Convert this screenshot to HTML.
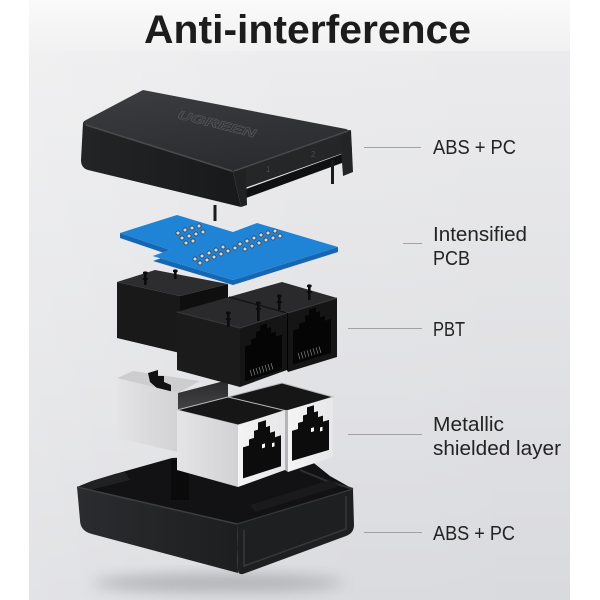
<!DOCTYPE html>
<html>
<head>
<meta charset="utf-8">
<style>
  html,body{margin:0;padding:0;background:#fff;}
  svg{display:block;}
  text{font-family:"Liberation Sans", Arial, sans-serif;}
</style>
</head>
<body>
<svg width="600" height="600" viewBox="0 0 600 600" xmlns="http://www.w3.org/2000/svg">
  <defs>
    <linearGradient id="bg" x1="0" y1="0" x2="0" y2="1">
      <stop offset="0" stop-color="#ebebed"/>
      <stop offset="1" stop-color="#d9dade"/>
    </linearGradient>
    <linearGradient id="bgH" x1="0" y1="0" x2="1" y2="0">
      <stop offset="0" stop-color="#ffffff" stop-opacity="0.25"/>
      <stop offset="0.5" stop-color="#ffffff" stop-opacity="0.05"/>
      <stop offset="1" stop-color="#ffffff" stop-opacity="0"/>
    </linearGradient>
    <linearGradient id="band" x1="0" y1="0" x2="0" y2="1">
      <stop offset="0" stop-color="#fafafa"/>
      <stop offset="1" stop-color="#f1f1f2"/>
    </linearGradient>
    <linearGradient id="coverTop" x1="0" y1="0" x2="0.4" y2="1">
      <stop offset="0" stop-color="#3c3d40"/>
      <stop offset="1" stop-color="#2b2c2f"/>
    </linearGradient>
    <linearGradient id="coverFront" x1="0" y1="0" x2="1" y2="0">
      <stop offset="0" stop-color="#232426"/>
      <stop offset="1" stop-color="#18191b"/>
    </linearGradient>
    <linearGradient id="shLeft" x1="0" y1="0" x2="1" y2="0">
      <stop offset="0" stop-color="#e4e4e6"/>
      <stop offset="1" stop-color="#d2d2d4"/>
    </linearGradient>
    <linearGradient id="shFace" x1="0" y1="0" x2="1" y2="0">
      <stop offset="0" stop-color="#f4f4f5"/>
      <stop offset="1" stop-color="#e7e7e9"/>
    </linearGradient>
    <linearGradient id="shDark" x1="0" y1="0" x2="0" y2="1">
      <stop offset="0" stop-color="#2a2a2c"/>
      <stop offset="1" stop-color="#555557"/>
    </linearGradient>
    <linearGradient id="caseFront" x1="0" y1="0" x2="1" y2="0">
      <stop offset="0" stop-color="#2b2c2f"/>
      <stop offset="1" stop-color="#1d1e20"/>
    </linearGradient>
    <filter id="blur" x="-50%" y="-50%" width="200%" height="200%">
      <feGaussianBlur stdDeviation="7"/>
    </filter>
  </defs>

  <!-- background -->
  <rect x="0" y="0" width="600" height="600" fill="#ffffff"/>
  <rect x="29" y="51" width="541" height="549" fill="url(#bg)"/>
  <rect x="29" y="51" width="541" height="549" fill="url(#bgH)"/>
  <rect x="29" y="0" width="541" height="51" fill="url(#band)"/>

  <!-- title -->
  <text x="144" y="43" font-size="40" font-weight="bold" fill="#1c1c1d" textLength="327" lengthAdjust="spacingAndGlyphs">Anti-interference</text>

  <!-- labels -->
  <g fill="#232324" font-size="20">
    <text x="433" y="154" textLength="83" lengthAdjust="spacingAndGlyphs">ABS + PC</text>
    <text x="433" y="241" textLength="94" lengthAdjust="spacingAndGlyphs">Intensified</text>
    <text x="433" y="265" textLength="37" lengthAdjust="spacingAndGlyphs">PCB</text>
    <text x="433" y="336" textLength="32" lengthAdjust="spacingAndGlyphs">PBT</text>
    <text x="433" y="431" textLength="71" lengthAdjust="spacingAndGlyphs">Metallic</text>
    <text x="433" y="455" textLength="128" lengthAdjust="spacingAndGlyphs">shielded layer</text>
    <text x="433" y="540" textLength="82" lengthAdjust="spacingAndGlyphs">ABS + PC</text>
  </g>
  <g stroke="#a2a2a5" stroke-width="1">
    <line x1="364" y1="147.5" x2="421" y2="147.5"/>
    <line x1="403" y1="243.5" x2="422" y2="243.5"/>
    <line x1="348" y1="328.5" x2="422" y2="328.5"/>
    <line x1="348" y1="434.5" x2="422" y2="434.5"/>
    <line x1="364" y1="532.5" x2="422" y2="532.5"/>
  </g>

  <!-- ============ BOTTOM CASE ============ -->
  <ellipse cx="218" cy="583" rx="125" ry="9" fill="#9fa0a4" opacity="0.7" filter="url(#blur)"/>
  <polygon points="77,487 92,481 115,474 172,458 300,452 330,476 353,489 237,524" fill="#121214"/>
  <polygon points="77,487 92,481 115,474 125,472 130,480 90,490" fill="#202123"/>
  <rect x="171" y="460" width="18" height="40" fill="#0a0a0b"/>
  <polyline points="300,470 327,481 353,489" fill="none" stroke="#2e2f31" stroke-width="2"/>
  <polygon points="250,505 330,480 340,486 255,512" fill="#1a1a1c"/>
  <path d="M77,487 L237,524 L238,573 L92,534 Q80,531 80,520 Z" fill="url(#caseFront)"/>
  <path d="M237,524 L353,489 L354,525 Q354,533 346,536 L243,574 Q238,575 238,570 Z" fill="#1e1f21"/>
  <path d="M244,530 L244,566 L346,529 L346,496" fill="none" stroke="#37383b" stroke-width="1.5"/>
  <line x1="77" y1="487" x2="237" y2="524" stroke="#3d3e41" stroke-width="1.5"/>
  <line x1="237" y1="524" x2="353" y2="489" stroke="#37383b" stroke-width="1.2"/>

  <!-- ============ METALLIC SHIELD ============ -->
  <!-- back shield -->
  <polygon points="117,378 133,371 200,381 178,393" fill="#cdcdcf"/>
  <polygon points="148,373 158,370 158,376 164,376 164,382 171,385 171,392 158,389 150,382" fill="#111"/>
  <polygon points="117,378 178,393 178,452 117,438" fill="url(#shLeft)"/>
  <polygon points="178,393 228,380 228,422 178,432" fill="url(#shDark)"/>
  <!-- front shield top -->
  <polygon points="177,410 228,397 282,383 333,397 287,411 238,425" fill="#161617" stroke="#b9b9bb" stroke-width="1"/>
  <line x1="228" y1="397" x2="287" y2="411" stroke="#b9b9bb" stroke-width="1"/>
  <!-- faces -->
  <polygon points="177,410 238,425 238,487 177,470" fill="url(#shLeft)"/>
  <polygon points="238,425 285,410 285,470 238,487" fill="url(#shFace)"/>
  <polygon points="285,410 288,410 288,472 285,470" fill="#b5b5b7"/>
  <polygon points="288,410 333,397 333,457 288,472" fill="url(#shFace)"/>
  <!-- shield ports -->
  <g transform="translate(238,425) skewY(-17.7)">
    <path d="M5,24 L5,55 L43,55 L43,24 L37,24 L37,18 L32,18 L32,11 L28,11 L28,4 L20,4 L20,11 L16,11 L16,18 L11,18 L11,24 Z" fill="#0c0c0d"/>
    <rect x="24" y="27" width="3" height="4" fill="#fff"/>
    <rect x="34" y="29" width="2.5" height="4" fill="#fff"/>
  </g>
  <g transform="translate(288,410) skewY(-16.5)">
    <path d="M4,22 L4,52 L41,52 L41,22 L35,22 L35,16 L30,16 L30,10 L26,10 L26,3 L19,3 L19,10 L15,10 L15,16 L10,16 L10,22 Z" fill="#0c0c0d"/>
    <rect x="23" y="25" width="3" height="4" fill="#fff"/>
    <rect x="32" y="27" width="2.5" height="4" fill="#fff"/>
  </g>

  <!-- ============ PBT JACKS ============ -->
  <polygon points="117,282 155,270 228,284 180,296" fill="#2d2d2f"/>
  <polygon points="117,282 180,296 180,353 117,338" fill="#19191a"/>
  <polygon points="180,296 228,284 228,322 180,336" fill="#0f0f10"/>
  <!-- front jacks -->
  <polygon points="177,312 229,297 282,282 337,298 287,313 240,328" fill="#2a2a2c"/>
  <line x1="229" y1="297" x2="287" y2="313" stroke="#111" stroke-width="1.2"/>
  <polygon points="177,312 240,328 240,387 177,370" fill="#1b1b1c"/>
  <polygon points="240,328 287,313 287,370 240,387" fill="#151516"/>
  <polygon points="287,313 288,313 288,372 287,370" fill="#000"/>
  <polygon points="288,313 337,298 337,357 288,372" fill="#151516"/>
  <line x1="177" y1="312" x2="240" y2="328" stroke="#3a3a3c" stroke-width="1"/>
  <line x1="240" y1="328" x2="287" y2="313" stroke="#3a3a3c" stroke-width="1"/>
  <line x1="288" y1="313" x2="337" y2="298" stroke="#3a3a3c" stroke-width="1"/>
  <g transform="translate(240,328) skewY(-17.7)">
    <path d="M5,20 L5,55 L42,55 L42,20 L36,20 L36,15 L31,15 L31,9 L27,9 L27,4 L20,4 L20,9 L16,9 L16,15 L11,15 L11,20 Z" fill="#050505"/>
    <g stroke="#8c8c8e" stroke-width="0.6">
      <line x1="10" y1="45" x2="12" y2="52"/><line x1="13" y1="45" x2="15" y2="52"/>
      <line x1="16" y1="45" x2="18" y2="52"/><line x1="19" y1="45" x2="21" y2="52"/>
      <line x1="22" y1="45" x2="24" y2="52"/><line x1="25" y1="45" x2="27" y2="52"/>
      <line x1="28" y1="45" x2="30" y2="52"/><line x1="31" y1="45" x2="33" y2="52"/>
    </g>
  </g>
  <g transform="translate(288,313) skewY(-17)">
    <path d="M5,19 L5,53 L43,53 L43,19 L37,19 L37,14 L32,14 L32,8 L28,8 L28,3 L21,3 L21,8 L17,8 L17,14 L11,14 L11,19 Z" fill="#050505"/>
    <g stroke="#8c8c8e" stroke-width="0.6">
      <line x1="10" y1="43" x2="12" y2="50"/><line x1="13" y1="43" x2="15" y2="50"/>
      <line x1="16" y1="43" x2="18" y2="50"/><line x1="19" y1="43" x2="21" y2="50"/>
      <line x1="22" y1="43" x2="24" y2="50"/><line x1="25" y1="43" x2="27" y2="50"/>
      <line x1="28" y1="43" x2="30" y2="50"/><line x1="31" y1="43" x2="33" y2="50"/>
    </g>
  </g>
  <!-- pins -->
  <g fill="#0c0c0d">
    <rect x="144" y="273" width="2.6" height="12"/><ellipse cx="145.3" cy="273" rx="2.4" ry="1.6"/><ellipse cx="145.3" cy="279" rx="2.8" ry="1.2"/>
    <rect x="174" y="271" width="2.6" height="8"/><ellipse cx="175.3" cy="271" rx="2.4" ry="1.6"/>
    <rect x="227" y="313" width="2.6" height="14"/><ellipse cx="228.3" cy="313" rx="2.4" ry="1.6"/><ellipse cx="228.3" cy="319" rx="2.8" ry="1.2"/>
    <rect x="257" y="303" width="2.6" height="18"/><ellipse cx="258.3" cy="303" rx="2.4" ry="1.6"/><ellipse cx="258.3" cy="309" rx="2.8" ry="1.2"/>
    <rect x="278" y="296" width="2.6" height="14"/><ellipse cx="279.3" cy="296" rx="2.4" ry="1.6"/><ellipse cx="279.3" cy="302" rx="2.8" ry="1.2"/>
    <rect x="308" y="286" width="2.6" height="14"/><ellipse cx="309.3" cy="286" rx="2.4" ry="1.6"/><ellipse cx="309.3" cy="292" rx="2.8" ry="1.2"/>
  </g>

  <!-- ============ PCB ============ -->
  <polygon points="120,238 170,255 153,261 233,285 338,252 338,247 233,280 153,256 170,250 120,233" fill="#1567b4"/>
  <polygon points="120,233 177,215 233,232 257,223 338,247 233,280 153,256 170,250" fill="#1f84d6"/>
  <g fill="#d4d7db" stroke="#2b2b2d" stroke-width="0.7">
    <circle cx="178" cy="233" r="2"/><circle cx="185" cy="230" r="2"/><circle cx="192" cy="228" r="2"/><circle cx="199" cy="226" r="2"/>
    <circle cx="182" cy="238" r="2"/><circle cx="189" cy="236" r="2"/><circle cx="196" cy="234" r="2"/><circle cx="203" cy="232" r="2"/>
    <circle cx="186" cy="243" r="2"/><circle cx="193" cy="241" r="2"/>
    <circle cx="195" cy="259" r="2"/><circle cx="202" cy="256" r="2"/><circle cx="209" cy="253" r="2"/><circle cx="216" cy="250" r="2"/><circle cx="223" cy="247" r="2"/>
    <circle cx="200" cy="263" r="2"/><circle cx="207" cy="260" r="2"/><circle cx="214" cy="257" r="2"/><circle cx="221" cy="254" r="2"/><circle cx="228" cy="251" r="2"/><circle cx="235" cy="248" r="2"/>
    <circle cx="240" cy="244" r="2"/><circle cx="247" cy="241" r="2"/><circle cx="254" cy="238" r="2"/><circle cx="261" cy="235" r="2"/><circle cx="268" cy="233" r="2"/><circle cx="275" cy="231" r="2"/>
    <circle cx="245" cy="249" r="2"/><circle cx="252" cy="246" r="2"/><circle cx="259" cy="243" r="2"/><circle cx="266" cy="240" r="2"/><circle cx="273" cy="238" r="2"/><circle cx="280" cy="236" r="2"/>
  </g>

  <!-- ============ TOP COVER ============ -->
  <path d="M83,123 L233,172 L241,207 L88,170 Q81,168 81,160 Z" fill="url(#coverFront)"/>
  <path d="M143,90 L346,129 Q352,131 349,134 L233,172 L86,126 Q80,123 86,120 Z" fill="url(#coverTop)"/>
  <polygon points="233,172 350,130 352,150 242,189" fill="#252628"/>
  <polygon points="246,189 342,154 342,163 246,198" fill="#0f1011"/>
  <polygon points="340,134 351,130 353,172 343,176" fill="#232426"/>
  <polygon points="233,172 246,168 247,205 241,207" fill="#202123"/>
  <line x1="86" y1="125" x2="232" y2="171" stroke="#4a4b4e" stroke-width="1.5"/>
  <line x1="234" y1="171" x2="348" y2="131" stroke="#48494c" stroke-width="1.5"/>
  <rect x="213.5" y="205" width="3" height="16" fill="#1a1a1b"/>
  <rect x="331" y="160" width="3" height="24" fill="#1a1a1b"/>
  <text x="0" y="0" font-size="12" font-weight="bold" fill="none" stroke="#55565a" stroke-width="0.6" transform="translate(176,118) rotate(14) skewX(-20)" textLength="80" lengthAdjust="spacingAndGlyphs">UGREEN</text>
  <text x="266" y="172" font-size="8" fill="#4a4b4e">1</text>
  <text x="311" y="157" font-size="8" fill="#4a4b4e">2</text>
</svg>
</body>
</html>
